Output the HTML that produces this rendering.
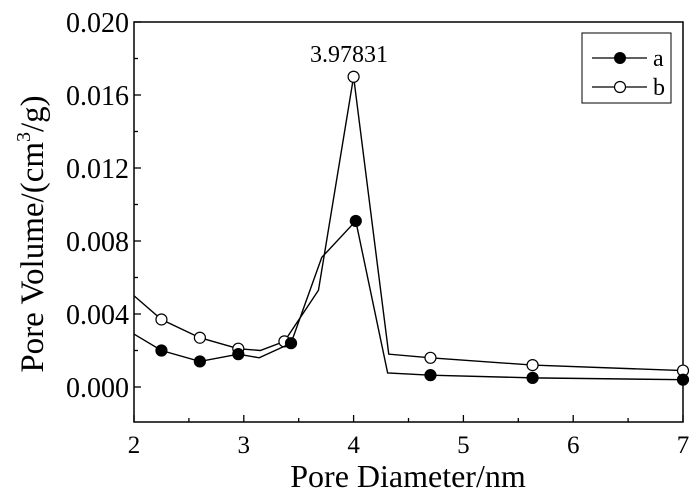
<!DOCTYPE html>
<html><head><meta charset="utf-8"><style>
body{margin:0;background:#fff}
svg text{font-family:"Liberation Serif",serif;fill:#000}
</style></head><body>
<svg width="700" height="493" xmlns="http://www.w3.org/2000/svg">
<g id="axes"></g>
<g id="series"></g>
<text x="349" y="62" font-size="24" text-anchor="middle">3.97831</text>
<text x="408" y="487" font-size="32" text-anchor="middle">Pore Diameter/nm</text>
<text transform="translate(43,234) rotate(-90)" font-size="33" text-anchor="middle">Pore Volume/(cm<tspan font-size="20" dy="-13">3</tspan><tspan dy="13">/g)</tspan></text>
<g>
<rect x="582" y="33" width="89" height="70" fill="#fff" stroke="#000" stroke-width="1"/>
<line x1="592" y1="58" x2="647" y2="58" stroke="#000" stroke-width="1.3"/>
<circle cx="620" cy="58" r="5.5" fill="#000" stroke="#000"/>
<text x="653" y="66" font-size="24">a</text>
<line x1="592" y1="87" x2="647" y2="87" stroke="#000" stroke-width="1.3"/>
<circle cx="620" cy="87" r="5.5" fill="#fff" stroke="#000" stroke-width="1.2"/>
<text x="653" y="95" font-size="24">b</text>
</g>
</svg>
<script>
const xTicks=[2,3,4,5,6,7];
const yTicks=[0,0.004,0.008,0.012,0.016,0.020];
const yTickLabels=["0.000","0.004","0.008","0.012","0.016","0.020"];
const aLineX=[2,2.25,2.6,2.95,3.14,3.43,3.71,4.02,4.31,4.7,5.63,7];
const aLineY=[0.0029,0.0020,0.0014,0.0018,0.0016,0.0024,0.0071,0.0091,0.00077,0.00065,0.0005,0.0004];
const aPtsX=[2.25,2.6,2.95,3.43,4.02,4.7,5.63,7];
const aPtsY=[0.0020,0.0014,0.0018,0.0024,0.0091,0.00065,0.0005,0.0004];
const bLineX=[2,2.25,2.6,2.95,3.15,3.37,3.68,4.0,4.32,4.7,5.63,7];
const bLineY=[0.0050,0.0037,0.0027,0.0021,0.0020,0.0025,0.0053,0.0170,0.0018,0.0016,0.0012,0.0009];
const bPtsX=[2.25,2.6,2.95,3.37,4.0,4.7,5.63,7];
const bPtsY=[0.0037,0.0027,0.0021,0.0025,0.0170,0.0016,0.0012,0.0009];
const L=134,R=683,T=22,B=422;
const sx=v=>L+(v-2)/5*(R-L);
const sy=v=>387-v/0.004*73;
const NS="http://www.w3.org/2000/svg";
function mk(tag,attrs,parent){const e=document.createElementNS(NS,tag);for(const k in attrs)e.setAttribute(k,attrs[k]);parent.appendChild(e);return e;}
const ax=document.getElementById('axes');
const fr=mk('rect',{x:L,y:T,width:R-L,height:B-T,fill:'none',stroke:'#000','stroke-width':1.5},ax);


for(let v=2;v<=7.001;v+=0.5){const x=sx(v);const major=Math.abs(v-Math.round(v))<1e-6;
 mk('line',{x1:x,y1:B,x2:x,y2:B-(major?7:4),stroke:'#000','stroke-width':1.3},ax);}
xTicks.forEach(v=>{const t=mk('text',{x:sx(v),y:B+31,'font-size':25,'text-anchor':'middle'},ax);t.textContent=v;
 
 });
for(let v=-0.002;v<=0.0201;v+=0.002){const y=sy(v);const major=Math.abs(v/0.004-Math.round(v/0.004))<1e-6;
 if(y<T-1||y>B)continue;
 mk('line',{x1:L,y1:y,x2:L+(major?7:4),y2:y,stroke:'#000','stroke-width':1.3},ax);}
yTicks.forEach((v,i)=>{const t=mk('text',{x:L-5,y:sy(v)+10,'font-size':28,'text-anchor':'end'},ax);t.textContent=yTickLabels[i];
 
 });
const se=document.getElementById('series');
function series(lx,ly,px,py,fill,name){
 const pl=mk('polyline',{points:lx.map((x,i)=>sx(x)+','+sy(ly[i])).join(' '),fill:'none',stroke:'#000','stroke-width':1.4},se);
 
 
 px.forEach((x,i)=>{const c=mk('circle',{cx:sx(x),cy:sy(py[i]),r:5.5,fill:fill,stroke:'#000','stroke-width':1.2},se);
  
  });
}
series(bLineX,bLineY,bPtsX,bPtsY,'#fff','series-b');
series(aLineX,aLineY,aPtsX,aPtsY,'#000','series-a');
</script>
</body></html>
